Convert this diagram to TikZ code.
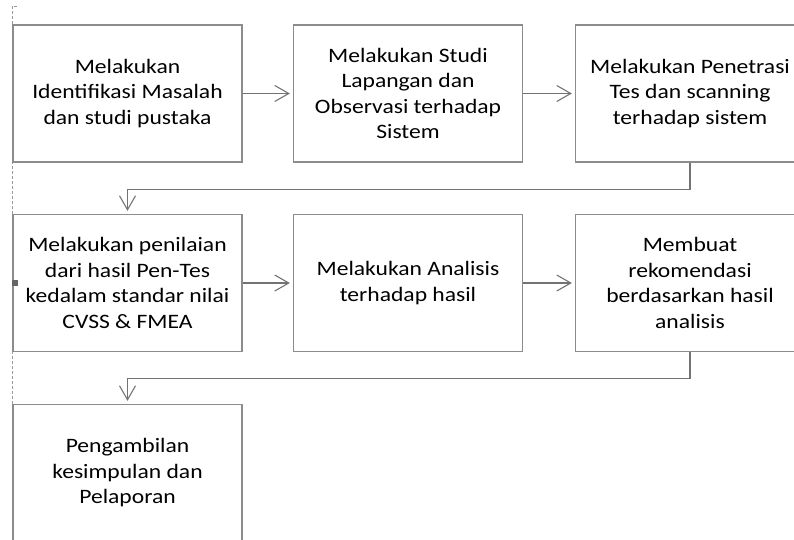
\documentclass[tikz,border=0pt]{standalone}
\usepackage{fontspec}
\setmainfont{Carlito}[FakeStretch=1.15]
\usetikzlibrary{arrows.meta}

\begin{document}
\begin{tikzpicture}[x=1pt,y=-1pt,
  procbox/.style={draw=black!45,line width=1.3pt,minimum width=229pt,minimum height=137pt,inner sep=0pt,align=center,text=black,font=\fontsize{20.5}{25.5}\selectfont},
  flow/.style={draw=black!55,line width=1.1pt,-{Straight Barb[length=14pt,width=16pt]},shorten >=3pt}]
\useasboundingbox (0,0) rectangle (794,539);
\clip (0,0) rectangle (794,539);
\draw[black!40,line width=0.8pt,dash pattern=on 3pt off 2pt] (12.5,539) -- (12.5,6) -- (18,6);

\node[procbox] (ident) at (127.5,93.5) {Melakukan\\Identifikasi Masalah\\dan studi pustaka};
\node[procbox] (studi) at (408,93.5) {Melakukan Studi\\Lapangan dan\\Observasi terhadap\\Sistem};
\node[procbox] (pentes) at (690,93.5) {Melakukan Penetrasi\\Tes dan scanning\\terhadap sistem};
\node[procbox] (nilai) at (127.5,283) {Melakukan penilaian\\dari hasil Pen-Tes\\kedalam standar nilai\\CVSS \& FMEA};
\node[procbox] (analisis) at (408,283) {Melakukan Analisis\\terhadap hasil};
\node[procbox] (rekom) at (690,283) {Membuat\\rekomendasi\\berdasarkan hasil\\analisis};
\node[procbox] (simpul) at (127.5,473) {Pengambilan\\kesimpulan dan\\Pelaporan};

\fill[black!60] (12,280) rectangle (18,286);

\draw[flow] (ident) -- (studi);
\draw[flow] (studi) -- (pentes);
\draw[flow] (pentes.south) -- ++(0,26.5) -| (nilai.north);
\draw[flow] (nilai) -- (analisis);
\draw[flow] (analisis) -- (rekom);
\draw[flow] (rekom.south) -- ++(0,26.5) -| (simpul.north);

\end{tikzpicture}
\end{document}
